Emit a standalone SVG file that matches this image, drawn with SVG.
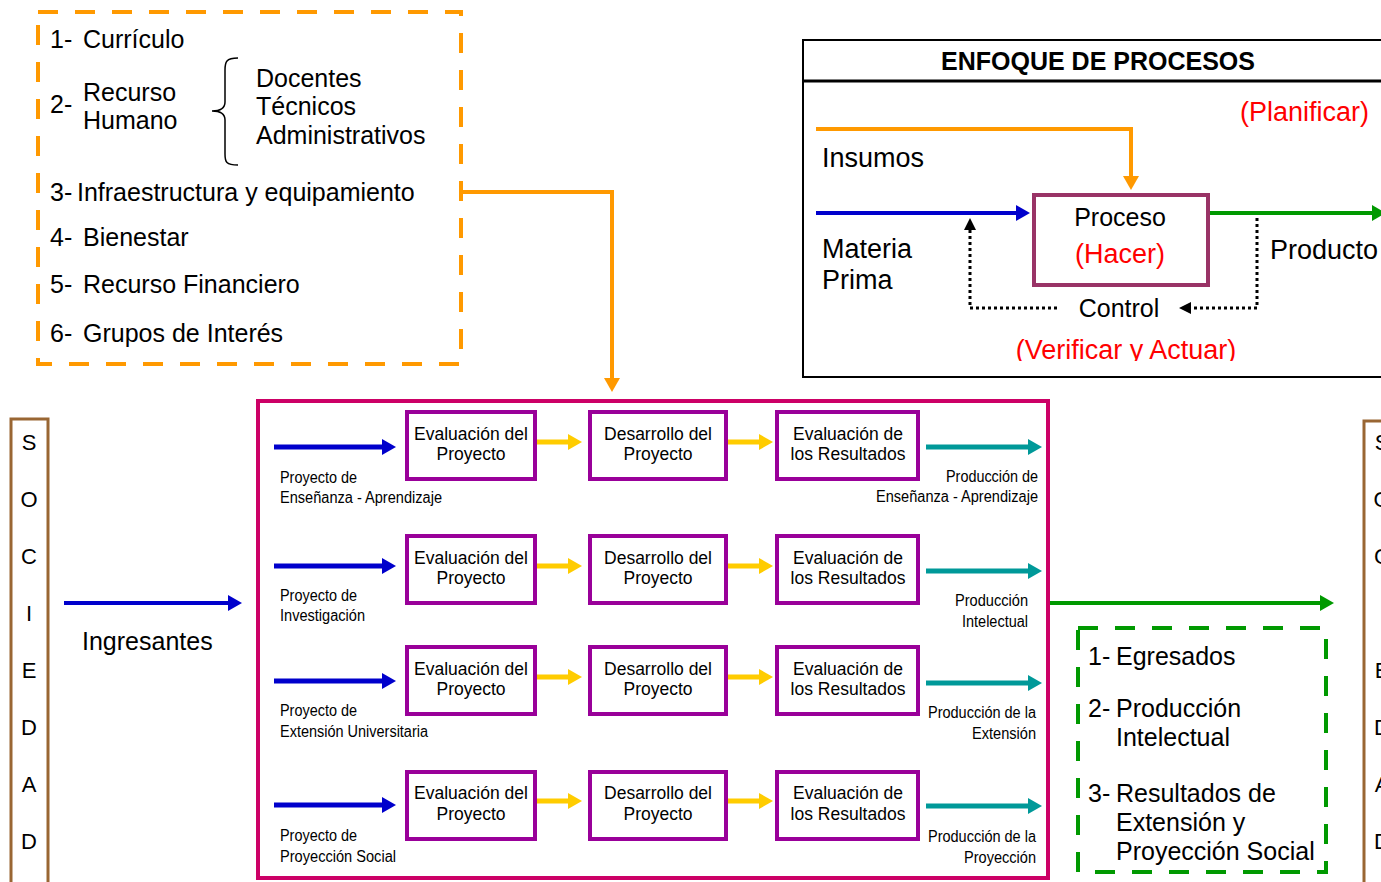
<svg xmlns="http://www.w3.org/2000/svg" width="1381" height="882" viewBox="0 0 1381 882">
<style>
text{font-family:"Liberation Sans",Arial,sans-serif;fill:#000}
.t24{font-size:25px}
.t27{font-size:27px}
.red{fill:#FF0000}
.bx{font-size:17.5px;text-anchor:middle}
.lb{font-size:16px}
.soc{font-size:22px;text-anchor:middle}
.step{fill:#fff;stroke:#990099;stroke-width:4}
.bl{stroke:#0000CC;stroke-width:5;fill:none;marker-end:url(#mBlue)}
.ye{stroke:#FFCC00;stroke-width:5;fill:none;marker-end:url(#mYel)}
.te{stroke:#009999;stroke-width:5;fill:none;marker-end:url(#mTeal)}
</style>
<defs>
<marker id="mBlue" markerUnits="userSpaceOnUse" markerWidth="14" markerHeight="16" refX="4" refY="8" orient="auto"><path d="M0,0 L14,8 L0,16 z" fill="#0000CC"/></marker>
<marker id="mYel" markerUnits="userSpaceOnUse" markerWidth="14" markerHeight="16" refX="4" refY="8" orient="auto"><path d="M0,0 L14,8 L0,16 z" fill="#FFCC00"/></marker>
<marker id="mTeal" markerUnits="userSpaceOnUse" markerWidth="14" markerHeight="16" refX="4" refY="8" orient="auto"><path d="M0,0 L14,8 L0,16 z" fill="#009999"/></marker>
<marker id="mGreen" markerUnits="userSpaceOnUse" markerWidth="14" markerHeight="16" refX="4" refY="8" orient="auto"><path d="M0,0 L14,8 L0,16 z" fill="#009900"/></marker>
<marker id="mOr" markerUnits="userSpaceOnUse" markerWidth="14" markerHeight="16" refX="4" refY="8" orient="auto"><path d="M0,0 L14,8 L0,16 z" fill="#FF9900"/></marker>
<marker id="mBlk" markerUnits="userSpaceOnUse" markerWidth="12" markerHeight="12" refX="3" refY="6" orient="auto"><path d="M0,0 L12,6 L0,12 z" fill="#000"/></marker>
<clipPath id="clipV"><rect x="803" y="330" width="600" height="31"/></clipPath>
</defs>

<g id="recursos">
<rect x="38" y="12" width="423" height="352" fill="none" stroke="#FF9900" stroke-width="4" stroke-dasharray="20 17"/>
<text class="t24" x="50" y="48">1-</text><text class="t24" x="83" y="48">Currículo</text>
<text class="t24" x="50" y="113">2-</text>
<text class="t24" x="83" y="101">Recurso</text><text class="t24" x="83" y="129">Humano</text>
<path d="M238,58 C226,58 225,62 225,70 L225,102 C225,108 220,111 212,111 C220,111 225,114 225,120 L225,154 C225,162 226,165 238,165" fill="none" stroke="#000" stroke-width="1.5"/>
<text class="t24" x="256" y="87">Docentes</text>
<text class="t24" x="256" y="115">Técnicos</text>
<text class="t24" x="256" y="144">Administrativos</text>
<text class="t24" x="50" y="201">3-</text><text class="t24" x="77" y="201">Infraestructura y equipamiento</text>
<text class="t24" x="50" y="246">4-</text><text class="t24" x="83" y="246">Bienestar</text>
<text class="t24" x="50" y="293">5-</text><text class="t24" x="83" y="293">Recurso Financiero</text>
<text class="t24" x="50" y="342">6-</text><text class="t24" x="83" y="342">Grupos de Interés</text>
</g>

<g id="enfoque">
<rect x="803" y="40" width="600" height="337" fill="#fff" stroke="#000" stroke-width="2"/>
<line x1="803" y1="81" x2="1381" y2="81" stroke="#000" stroke-width="3"/>
<text x="1098" y="70" font-size="25" font-weight="bold" text-anchor="middle">ENFOQUE DE PROCESOS</text>
<text class="t27 red" x="1240" y="121">(Planificar)</text>
<text class="t27" x="822" y="167">Insumos</text>
<text class="t27" x="822" y="258">Materia</text>
<text class="t27" x="822" y="289">Prima</text>
<text class="t27" x="1270" y="259">Producto</text>
<rect x="1034" y="195" width="174" height="90" fill="#fff" stroke="#993366" stroke-width="4"/>
<text class="t24" x="1120" y="226" text-anchor="middle">Proceso</text>
<text class="t27 red" x="1120" y="263" text-anchor="middle">(Hacer)</text>
<text class="t24" x="1119" y="317" text-anchor="middle">Control</text>
<text class="t27 red" x="1126" y="359" text-anchor="middle" clip-path="url(#clipV)">(Verificar y Actuar)</text>
<path d="M816,129 H1131 V180" fill="none" stroke="#FF9900" stroke-width="4" marker-end="url(#mOr)"/>
<path d="M816,213 H1020" fill="none" stroke="#0000CC" stroke-width="4" marker-end="url(#mBlue)"/>
<path d="M1210,213 H1376" fill="none" stroke="#009900" stroke-width="4" marker-end="url(#mGreen)"/>
<path d="M1257,218 V308 H1188" fill="none" stroke="#000" stroke-width="3" stroke-dasharray="3 3" marker-end="url(#mBlk)"/>
<path d="M1057,308 H970 V227" fill="none" stroke="#000" stroke-width="3" stroke-dasharray="3 3" marker-end="url(#mBlk)"/>
</g>

<g id="sociedad-izq">
<rect x="11" y="419" width="37" height="470" fill="#fff" stroke="#996633" stroke-width="3"/>
<text class="soc" x="29" y="450">S</text>
<text class="soc" x="29" y="507">O</text>
<text class="soc" x="29" y="564">C</text>
<text class="soc" x="29" y="621">I</text>
<text class="soc" x="29" y="678">E</text>
<text class="soc" x="29" y="735">D</text>
<text class="soc" x="29" y="792">A</text>
<text class="soc" x="29" y="849">D</text>
</g>

<g id="sociedad-der">
<rect x="1364" y="421" width="40" height="470" fill="#fff" stroke="#996633" stroke-width="3"/>
<text class="soc" x="1382" y="450">S</text>
<text class="soc" x="1382" y="507">O</text>
<text class="soc" x="1382" y="564">C</text>
<text class="soc" x="1383" y="621" fill="#ccc">I</text>
<text class="soc" x="1382" y="678">E</text>
<text class="soc" x="1382" y="735">D</text>
<text class="soc" x="1382" y="792">A</text>
<text class="soc" x="1382" y="849">D</text>
</g>

<g id="ingresantes">
<text class="t24" x="82" y="650">Ingresantes</text>
</g>

<g id="procesos">
<rect x="258" y="401" width="790" height="477" fill="none" stroke="#CC0066" stroke-width="4"/>
</g>

<g id="fila1">
<rect class="step" x="407" y="412" width="128" height="67"/>
<text class="bx" x="471" y="440">Evaluación del</text><text class="bx" x="471" y="460">Proyecto</text>
<rect class="step" x="590" y="412" width="136" height="67"/>
<text class="bx" x="658" y="440">Desarrollo del</text><text class="bx" x="658" y="460">Proyecto</text>
<rect class="step" x="777" y="412" width="141" height="67"/>
<text class="bx" x="848" y="440">Evaluación de</text><text class="bx" x="848" y="460">los Resultados</text>
<text class="lb" x="280" y="483" textLength="77" lengthAdjust="spacingAndGlyphs">Proyecto de</text>
<text class="lb" x="280" y="503" textLength="162" lengthAdjust="spacingAndGlyphs">Enseñanza - Aprendizaje</text>
<text class="lb" x="946" y="482" textLength="92" lengthAdjust="spacingAndGlyphs">Producción de</text>
<text class="lb" x="876" y="502" textLength="162" lengthAdjust="spacingAndGlyphs">Enseñanza - Aprendizaje</text>
</g>

<g id="fila2">
<rect class="step" x="407" y="536" width="128" height="67"/>
<text class="bx" x="471" y="564">Evaluación del</text><text class="bx" x="471" y="584">Proyecto</text>
<rect class="step" x="590" y="536" width="136" height="67"/>
<text class="bx" x="658" y="564">Desarrollo del</text><text class="bx" x="658" y="584">Proyecto</text>
<rect class="step" x="777" y="536" width="141" height="67"/>
<text class="bx" x="848" y="564">Evaluación de</text><text class="bx" x="848" y="584">los Resultados</text>
<text class="lb" x="280" y="601" textLength="77" lengthAdjust="spacingAndGlyphs">Proyecto de</text>
<text class="lb" x="280" y="621" textLength="85" lengthAdjust="spacingAndGlyphs">Investigación</text>
<text class="lb" x="955" y="606" textLength="73" lengthAdjust="spacingAndGlyphs">Producción</text>
<text class="lb" x="962" y="627" textLength="66" lengthAdjust="spacingAndGlyphs">Intelectual</text>
</g>

<g id="fila3">
<rect class="step" x="407" y="647" width="128" height="67"/>
<text class="bx" x="471" y="675">Evaluación del</text><text class="bx" x="471" y="695">Proyecto</text>
<rect class="step" x="590" y="647" width="136" height="67"/>
<text class="bx" x="658" y="675">Desarrollo del</text><text class="bx" x="658" y="695">Proyecto</text>
<rect class="step" x="777" y="647" width="141" height="67"/>
<text class="bx" x="848" y="675">Evaluación de</text><text class="bx" x="848" y="695">los Resultados</text>
<text class="lb" x="280" y="716" textLength="77" lengthAdjust="spacingAndGlyphs">Proyecto de</text>
<text class="lb" x="280" y="737" textLength="148" lengthAdjust="spacingAndGlyphs">Extensión Universitaria</text>
<text class="lb" x="928" y="718" textLength="108" lengthAdjust="spacingAndGlyphs">Producción de la</text>
<text class="lb" x="972" y="739" textLength="64" lengthAdjust="spacingAndGlyphs">Extensión</text>
</g>

<g id="fila4">
<rect class="step" x="407" y="772" width="128" height="67"/>
<text class="bx" x="471" y="799">Evaluación del</text><text class="bx" x="471" y="820">Proyecto</text>
<rect class="step" x="590" y="772" width="136" height="67"/>
<text class="bx" x="658" y="799">Desarrollo del</text><text class="bx" x="658" y="820">Proyecto</text>
<rect class="step" x="777" y="772" width="141" height="67"/>
<text class="bx" x="848" y="799">Evaluación de</text><text class="bx" x="848" y="820">los Resultados</text>
<text class="lb" x="280" y="841" textLength="77" lengthAdjust="spacingAndGlyphs">Proyecto de</text>
<text class="lb" x="280" y="862" textLength="116" lengthAdjust="spacingAndGlyphs">Proyección Social</text>
<text class="lb" x="928" y="842" textLength="108" lengthAdjust="spacingAndGlyphs">Producción de la</text>
<text class="lb" x="964" y="863" textLength="72" lengthAdjust="spacingAndGlyphs">Proyección</text>
</g>

<g id="resultados">
<rect x="1078" y="628" width="248" height="244" fill="none" stroke="#009900" stroke-width="4" stroke-dasharray="20 17"/>
<text class="t24" x="1088" y="665">1-</text><text class="t24" x="1116" y="665">Egresados</text>
<text class="t24" x="1088" y="717">2-</text><text class="t24" x="1116" y="717">Producción</text>
<text class="t24" x="1116" y="746">Intelectual</text>
<text class="t24" x="1088" y="802">3-</text><text class="t24" x="1116" y="802">Resultados de</text>
<text class="t24" x="1116" y="831">Extensión y</text>
<text class="t24" x="1116" y="860">Proyección Social</text>
</g>

<g id="conectores">
<path d="M461,192 H612 V382" fill="none" stroke="#FF9900" stroke-width="4" marker-end="url(#mOr)"/>
<path d="M64,603 H232" fill="none" stroke="#0000CC" stroke-width="4" marker-end="url(#mBlue)"/>
<path d="M1050,603 H1324" fill="none" stroke="#009900" stroke-width="4" marker-end="url(#mGreen)"/>
<path class="bl" d="M274,447 H386"/>
<path class="ye" d="M537,442 H572"/>
<path class="ye" d="M728,442 H763"/>
<path class="te" d="M926,447 H1032"/>
<path class="bl" d="M274,566 H386"/>
<path class="ye" d="M537,566 H572"/>
<path class="ye" d="M728,566 H763"/>
<path class="te" d="M926,571 H1032"/>
<path class="bl" d="M274,681 H386"/>
<path class="ye" d="M537,677 H572"/>
<path class="ye" d="M728,677 H763"/>
<path class="te" d="M926,683 H1032"/>
<path class="bl" d="M274,805 H386"/>
<path class="ye" d="M537,801 H572"/>
<path class="ye" d="M728,801 H763"/>
<path class="te" d="M926,806 H1032"/>
</g>
</svg>
